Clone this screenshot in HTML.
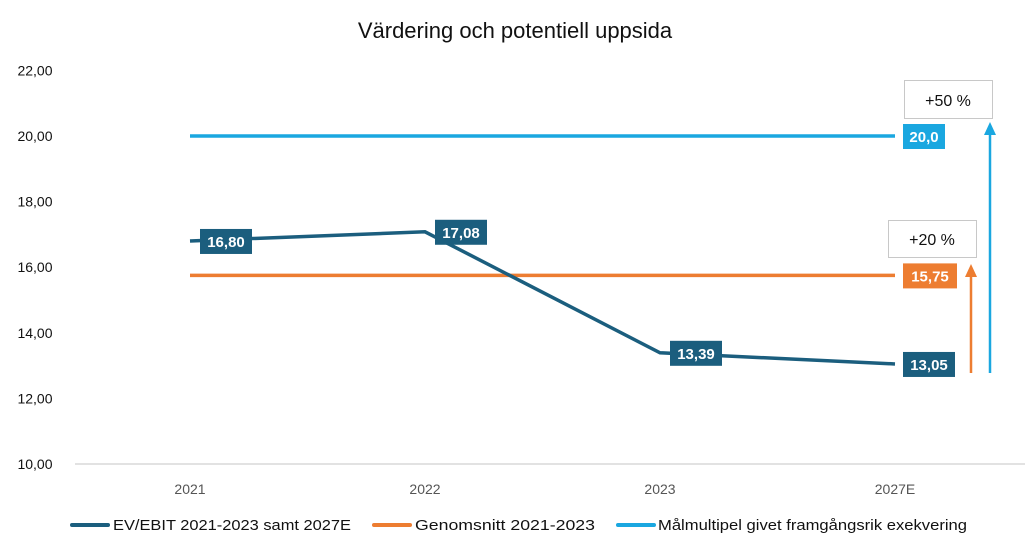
<!DOCTYPE html>
<html><head><meta charset="utf-8"><style>
body{margin:0;background:#fff;}
svg{display:block;font-family:"Liberation Sans",sans-serif;}
</style></head><body>
<svg id="c" width="1030" height="557" viewBox="0 0 1030 557">
<text x="515" y="38" text-anchor="middle" font-size="22" fill="#111">Värdering och potentiell uppsida</text>
<g id="axis"></g><g id="marks"></g>
<g>
<line x1="971" y1="373" x2="971" y2="276" stroke="#ED7D31" stroke-width="2.5"/>
<polygon points="965,277 977,277 971,264" fill="#ED7D31"/>
<line x1="990" y1="373" x2="990" y2="134" stroke="#1AA7E0" stroke-width="2.5"/>
<polygon points="984,135 996,135 990,122" fill="#1AA7E0"/>
<rect x="888.5" y="220.5" width="88" height="37" fill="#fff" stroke="#c8c8c8"/>
<text x="932" y="245" text-anchor="middle" font-size="16" fill="#111">+20 %</text>
<rect x="904.5" y="80.5" width="88" height="38" fill="#fff" stroke="#c8c8c8"/>
<text x="948" y="106" text-anchor="middle" font-size="16" fill="#111">+50 %</text>
</g>
<g font-size="15" fill="#111">
<line x1="72" y1="525" x2="108" y2="525" stroke="#1B5E7E" stroke-width="4" stroke-linecap="round"/>
<text x="113" y="530" textLength="238" lengthAdjust="spacingAndGlyphs">EV/EBIT 2021-2023 samt 2027E</text>
<line x1="374" y1="525" x2="410" y2="525" stroke="#ED7D31" stroke-width="4" stroke-linecap="round"/>
<text x="415" y="530" textLength="180" lengthAdjust="spacingAndGlyphs">Genomsnitt 2021-2023</text>
<line x1="618" y1="525" x2="654" y2="525" stroke="#1AA7E0" stroke-width="4" stroke-linecap="round"/>
<text x="658" y="530" textLength="309" lengthAdjust="spacingAndGlyphs">Målmultipel givet framgångsrik exekvering</text>
</g>
</svg>
<script>
const categories=["2021","2022","2023","2027E"];
const evEbit=[16.80,17.08,13.39,13.05];
const evLabels=["16,80","17,08","13,39","13,05"];
const average=15.75;
const target=20.0;
const yTicks=[10,12,14,16,18,20,22];
const NS="http://www.w3.org/2000/svg";
const x=i=>190+i*235;
const y=v=>464-(v-10)*32.8;
function mk(t,a,p){const e=document.createElementNS(NS,t);for(const k in a)e.setAttribute(k,a[k]);p.appendChild(e);return e;}
const ax=document.getElementById('axis'),mk2=document.getElementById('marks');
yTicks.forEach(v=>{const t=mk('text',{x:35,y:y(v)+5,'text-anchor':'middle','font-size':14,fill:'#111'},ax);t.textContent=v.toFixed(2).replace('.',',');

});
const base=mk('line',{x1:75,x2:1025,y1:y(10),y2:y(10),stroke:'#d9d9d9','stroke-width':1.5},ax);


categories.forEach((c,i)=>{const t=mk('text',{x:x(i),y:494,'text-anchor':'middle','font-size':14,fill:'#555'},ax);t.textContent=c;

});
const n=categories.length-1;
const tl=mk('line',{x1:x(0),x2:x(n),y1:y(target),y2:y(target),stroke:'#1AA7E0','stroke-width':3.5},mk2);


const al=mk('line',{x1:x(0),x2:x(n),y1:y(average),y2:y(average),stroke:'#ED7D31','stroke-width':3.5},mk2);


const pl=mk('polyline',{points:evEbit.map((v,i)=>x(i)+','+y(v)).join(' '),fill:'none',stroke:'#1B5E7E','stroke-width':3.5},mk2);


function label(cx,cy,txt,col,w,name){const g=mk('g',{},mk2);


mk('rect',{x:cx,y:cy-12,width:w,height:25,fill:col},g);
const t=mk('text',{x:cx+w/2,y:cy+6,'text-anchor':'middle','font-size':15,'font-weight':'bold',fill:'#fff'},g);t.textContent=txt;}
evLabels.forEach((l,i)=>label(x(i)+(i==3?8:10),y(evEbit[i]),l,'#1B5E7E',52,'ev-ebit-label'));
label(x(n)+8,y(target),'20,0','#1AA7E0',42,'target-label');
label(x(n)+8,y(average),String(average.toFixed(2)).replace('.',','),'#ED7D31',54,'average-label');
</script>
</body></html>
